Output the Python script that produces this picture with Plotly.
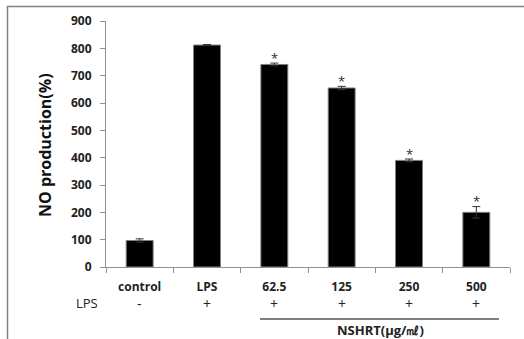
import plotly.graph_objects as go

categories = ["control", "LPS", "62.5", "125", "250", "500"]
values = [97, 812, 741, 655, 390, 200]
errors = [6, 2, 5, 6, 5, 21]
lps_signs = ["-", "+", "+", "+", "+", "+"]
stars = ["", "", "*", "*", "*", "*"]
y_ticks = [0, 100, 200, 300, 400, 500, 600, 700, 800, 900]

FONT = "Open Sans"
L, R, T, B = 106, 14, 21, 72
W, H = 524, 339
pw, ph = W - L - R, H - T - B

def px_to_paper_x(px):
    return (px - L) / pw

def px_to_paper_y(py):
    return (H - B - py) / ph

idx = list(range(len(categories)))

fig = go.Figure()
fig.add_trace(go.Bar(
    x=categories, y=values,
    marker=dict(color="black", line=dict(color="#808080", width=1)),
    error_y=dict(type="data", array=errors, visible=True, color="#333333",
                 thickness=1, width=4),
    width=0.4,
))

annotations = []
for i, s in zip(idx, stars):
    if s:
        annotations.append(dict(x=i, y=values[i] + errors[i] + 20, text=s,
                                showarrow=False, xref="x", yref="y",
                                font=dict(family=FONT, size=13, color="#1f2a44"),
                                yanchor="middle"))
for i, s in zip(idx, lps_signs):
    annotations.append(dict(x=i, y=px_to_paper_y(303), yref="paper", xref="x",
                            text=s, showarrow=False, yanchor="middle",
                            font=dict(family=FONT, size=14, color="#222222")))
annotations.append(dict(x=px_to_paper_x(87), y=px_to_paper_y(303), xref="paper",
                        yref="paper", text="LPS", showarrow=False,
                        xanchor="center", yanchor="middle",
                        font=dict(family=FONT, size=13, color="#222222")))
annotations.append(dict(x=px_to_paper_x(380), y=px_to_paper_y(330), xref="paper",
                        yref="paper", text="<b>NSHRT(μg/㎖)</b>", showarrow=False,
                        xanchor="center", yanchor="middle",
                        font=dict(family=FONT, size=13, color="#222222")))
annotations.append(dict(x=px_to_paper_x(45), y=px_to_paper_y(145), xref="paper",
                        yref="paper", text="<b>NO production(%)</b>", showarrow=False,
                        textangle=-90, xanchor="center", yanchor="middle",
                        font=dict(family=FONT, size=16, color="#111111")))

shapes = [
    dict(type="line", xref="paper", yref="paper",
         x0=px_to_paper_x(260), x1=px_to_paper_x(499),
         y0=px_to_paper_y(319), y1=px_to_paper_y(319),
         line=dict(color="#555555", width=1.5)),
    dict(type="line", xref="paper", yref="paper",
         x0=px_to_paper_x(7), x1=px_to_paper_x(525),
         y0=px_to_paper_y(6.5), y1=px_to_paper_y(6.5),
         line=dict(color="#808080", width=1.5)),
    dict(type="line", xref="paper", yref="paper",
         x0=px_to_paper_x(7.5), x1=px_to_paper_x(7.5),
         y0=px_to_paper_y(6), y1=px_to_paper_y(345),
         line=dict(color="#808080", width=1.5)),
]

fig.update_layout(
    width=W, height=H,
    margin=dict(l=L, r=R, t=T, b=B),
    plot_bgcolor="white", paper_bgcolor="white",
    showlegend=False,
    annotations=annotations,
    shapes=shapes,
    font=dict(family=FONT),
)
fig.update_xaxes(
    type="category", range=[-0.5, len(categories) - 0.5],
    showline=True, linecolor="#909090", linewidth=1,
    ticks="outside", tickson="boundaries", ticklen=5, tickcolor="#909090",
    tickfont=dict(family=FONT, size=12, color="#222222", weight="bold"),
    showgrid=False, zeroline=False, ticklabelstandoff=9,
)
fig.update_yaxes(
    range=[0, 900], tickvals=y_ticks, showline=True, linecolor="#909090",
    linewidth=1, ticks="outside", ticklen=5, tickcolor="#909090",
    tickfont=dict(family=FONT, size=12, color="#222222", weight="bold"),
    showgrid=False, zeroline=False, ticklabelstandoff=6,
)

fig.write_html("out.html")
